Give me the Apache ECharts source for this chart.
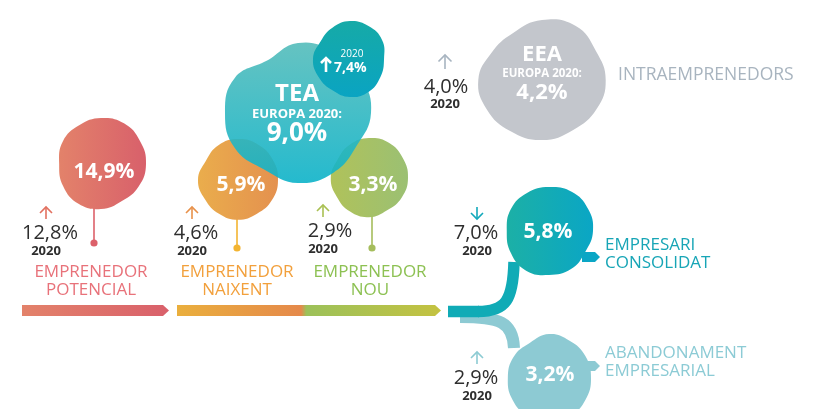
<!DOCTYPE html>
<html>
<head>
<meta charset="utf-8">
<script src="https://cdn.jsdelivr.net/npm/echarts@6/dist/echarts.min.js"></script>
<style>
  html, body { margin: 0; padding: 0; background: #fff; }
  #chart { width: 817px; height: 409px; }
</style>
</head>
<body>
<div id="chart"></div>
<script>
const stageNames = ['EMPRENEDOR\nPOTENCIAL', 'EMPRENEDOR\nNAIXENT', 'EMPRENEDOR\nNOU',
                    'EMPRESARI\nCONSOLIDAT', 'ABANDONAMENT\nEMPRESARIAL'];
const rateNow = [14.9, 5.9, 3.3, 5.8, 3.2];
const rate2020 = [12.8, 4.6, 2.9, 7.0, 2.9];
const prevYear = '2020';
const teaName = 'TEA';
const teaEurope = 9.0;
const tea2020 = 7.4;
const eeaName = 'EEA';
const eeaEurope = 4.2;
const eea2020 = 4.0;
const eeaLabel = 'INTRAEMPRENEDORS';
const europeLabel = 'EUROPA 2020:';

// ---- layout (pixels on a hidden 817x409 grid) ----
const FONT = '"Open Sans", sans-serif';
const DARK = '#2e2e2e';

const stageLayout = [
  { cx: 101, cy: 164, rx: 45, ry: 46, r: [1, 1.02, 1.0, 1.0, 0.97, 0.93, 0.98, 1.0, 0.97, 0.93, 0.98, 0.97],
    fill: ['#e3826a', '#d8606b'], pin: '#dc616a', pinX: 94, pinTop: 205, pinBot: 243,
    vx: 104, vy: 172, ax: 46, ay: 207, px: 50, lx: 91, ly: 272, align: 'center',
    labelColor: '#e8727a', arrowColor: '#e2705f' },
  { cx: 238, cy: 180, rx: 40, ry: 41, r: [1, 1.0, 1.0, 1.0, 0.98, 0.95, 0.97, 0.95, 0.95, 1.0, 0.93, 0.98],
    fill: ['#eaad4c', '#e4914f'], pin: '#f3b431', pinX: 237, pinTop: 215, pinBot: 248,
    vx: 241, vy: 185, ax: 192, ay: 207, px: 196, lx: 237, ly: 272, align: 'center',
    labelColor: '#f2a03c', arrowColor: '#e8914a' },
  { cx: 369, cy: 178, rx: 39, ry: 40, r: [1, 1.02, 1.0, 1.0, 0.97, 0.93, 0.98, 0.97, 0.95, 0.98, 0.93, 0.97],
    fill: ['#b0c25a', '#9bc073'], pin: '#a5bd5c', pinX: 372, pinTop: 214, pinBot: 248,
    vx: 373, vy: 185, ax: 323, ay: 205, px: 330, lx: 370, ly: 272, align: 'center',
    labelColor: '#8dc153', arrowColor: '#a9c052' },
  { cx: 549, cy: 231, rx: 44, ry: 44, r: [1, 1.03, 1.02, 1.0, 0.95, 1.0, 1.0, 1.04, 1.0, 0.96, 1.0, 1.0],
    fill: ['#1cb0a6', '#0aa6c5'], tipY: 257,
    vx: 548, vy: 232, ax: 477, ay: 207, px: 476, lx: 605, ly: 245, align: 'left',
    labelColor: '#17a5b6', arrowColor: '#12a9bb' },
  { cx: 549, cy: 378, rx: 42, ry: 44, r: [1, 0.98, 1.0, 1.0, 1.0, 1.0, 1.0, 1.0, 1.0, 0.98, 0.97, 0.92],
    fill: ['#8dcad3', '#8dcad3'], tipY: 366,
    vx: 550, vy: 375, ax: 477, ay: 352, px: 476, lx: 605, ly: 353, align: 'left',
    labelColor: '#8ccbd5', arrowColor: '#8ccbd3' }
];

const barLayout = [
  { x0: 22, x1: 169, y: 305, h: 11, stops: [[0, '#e3826a'], [1, '#d9606b']] },
  { x0: 177, x1: 441, y: 305, h: 11,
    stops: [[0, '#eaaf3d'], [0.47, '#e5894b'], [0.49, '#9cc15a'], [1, '#c4c241']] }
];

function pct(v) { return v.toFixed(1).replace('.', ',') + '%'; }

function blob(api, L, fill, opacity) {
  const n = L.r.length;
  const points = L.r.map(function (r, k) {
    const a = k * 2 * Math.PI / n;
    return api.coord([L.cx + L.rx * r * Math.sin(a), L.cy - L.ry * r * Math.cos(a)]);
  });
  return { type: 'polygon', shape: { points: points, smooth: 0.45 }, style: { fill: fill, opacity: opacity == null ? 1 : opacity } };
}

function grad(stops, vertical) {
  return new echarts.graphic.LinearGradient(0, 0, vertical ? 0 : 1, vertical ? 1 : 0,
    stops.map(function (s) { return { offset: s[0], color: s[1] }; }));
}

function txt(api, x, y, text, font, fill, align) {
  const p = api.coord([x, y]);
  return { type: 'text', style: { x: p[0], y: p[1], text: text, font: font, fill: fill,
    align: align || 'center', verticalAlign: 'middle' } };
}

function arrow(api, x, yTop, len, up, color, w, half) {
  const a = api.coord([x, yTop]), b = api.coord([x, yTop + len]);
  const tip = up ? a : b, d = up ? half : -half;
  return [
    { type: 'line', shape: { x1: a[0], y1: a[1], x2: b[0], y2: b[1] }, style: { stroke: color, lineWidth: w } },
    { type: 'polyline', shape: { points: [[tip[0] - half, tip[1] + d], [tip[0], tip[1]], [tip[0] + half, tip[1] + d]] },
      style: { stroke: color, lineWidth: w, fill: null } }
  ];
}

function renderBars(params, api) {
  const B = barLayout[params.dataIndex];
  const pts = [[B.x0, B.y], [B.x1 - 6, B.y], [B.x1, B.y + B.h / 2], [B.x1 - 6, B.y + B.h], [B.x0, B.y + B.h]]
    .map(function (p) { return api.coord(p); });
  return { type: 'polygon', shape: { points: pts }, style: { fill: grad(B.stops) } };
}

function renderFlows(params, api) {
  const c = function (x, y) { return api.coord([x, y]); };
  const lower = [c(460, 317), c(500, 317), c(513, 322), c(514, 348)];
  const upper = [c(478, 311.5), c(506, 311.5), c(513, 300), c(514, 262)];
  const s = c(448, 311.5);
  return { type: 'group', children: [
    { type: 'bezierCurve', shape: { x1: lower[0][0], y1: lower[0][1], cpx1: lower[1][0], cpy1: lower[1][1],
      cpx2: lower[2][0], cpy2: lower[2][1], x2: lower[3][0], y2: lower[3][1] },
      style: { stroke: '#8dcad3', lineWidth: 12, fill: null } },
    { type: 'line', shape: { x1: s[0], y1: s[1], x2: upper[0][0] + 1, y2: upper[0][1] },
      style: { stroke: '#10abb6', lineWidth: 11.5 } },
    { type: 'bezierCurve', shape: { x1: upper[0][0], y1: upper[0][1], cpx1: upper[1][0], cpy1: upper[1][1],
      cpx2: upper[2][0], cpy2: upper[2][1], x2: upper[3][0], y2: upper[3][1] },
      style: { stroke: '#10abb6', lineWidth: 11.5, fill: null } }
  ] };
}

function renderStage(params, api) {
  const i = params.dataIndex;
  const L = stageLayout[i];
  const kids = [];
  if (L.pinX) {
    const a = api.coord([L.pinX, L.pinTop]), b = api.coord([L.pinX, L.pinBot]);
    kids.push({ type: 'line', shape: { x1: a[0], y1: a[1], x2: b[0], y2: b[1] }, style: { stroke: L.pin, lineWidth: 1.6 } });
    kids.push({ type: 'circle', shape: { cx: b[0], cy: b[1], r: 3.6 }, style: { fill: L.pin } });
  }
  if (L.tipY) {
    const pts = [[582, L.tipY - 5], [595, L.tipY - 5], [600, L.tipY], [595, L.tipY + 5], [582, L.tipY + 5]]
      .map(function (p) { return api.coord(p); });
    kids.push({ type: 'polygon', shape: { points: pts }, style: { fill: L.fill[1] } });
  }
  kids.push(blob(api, L, grad([[0, L.fill[0]], [1, L.fill[1]]])));
  kids.push(txt(api, L.vx, L.vy, pct(rateNow[i]), 'bold 21px ' + FONT, '#fff'));
  const up = rateNow[i] >= rate2020[i];
  arrow(api, L.ax, L.ay, 12, up, L.arrowColor, 1.6, 6).forEach(function (e) { kids.push(e); });
  kids.push(txt(api, L.px, L.ay + 26, pct(rate2020[i]), '20px ' + FONT, DARK));
  kids.push(txt(api, L.ax, L.ay + 44, prevYear, 'bold 13px ' + FONT, DARK));
  stageNames[i].split('\n').forEach(function (line, k) {
    kids.push(txt(api, L.lx, L.ly + k * 18.5, line, '17px ' + FONT, L.labelColor, L.align));
  });
  return { type: 'group', children: kids };
}

function renderTea(params, api) {
  const big = { cx: 298, cy: 113, rx: 73, ry: 70, r: [1, 1.0, 1.0, 1.0, 0.93, 0.98, 1.0, 0.93, 1.0, 1.0, 1.0, 0.86] };
  const small = { cx: 350, cy: 59, rx: 37, ry: 38, r: [1, 1.0, 1.0, 0.92, 0.95, 1.0, 1.0, 0.95, 0.97, 1.0, 0.92, 0.95] };
  const kids = [
    blob(api, big, grad([[0, '#55bdbb'], [1, '#0db3c9']], true), 0.9),
    txt(api, 297, 94, teaName, 'bold 24px ' + FONT, '#fff'),
    txt(api, 297, 114, europeLabel, 'bold 13px ' + FONT, '#fff'),
    txt(api, 297, 134, pct(teaEurope), 'bold 26px ' + FONT, '#fff'),
    blob(api, small, grad([[0, '#16aaa7'], [1, '#0aa4c2']], true)),
    txt(api, 352, 54, prevYear, '10px ' + FONT, '#fff'),
    txt(api, 334, 68, pct(tea2020), 'bold 14px ' + FONT, '#fff', 'left')
  ];
  arrow(api, 326, 58, 14, teaEurope >= tea2020, '#fff', 2.6, 5).forEach(function (e) { kids.push(e); });
  return { type: 'group', children: kids };
}

function renderEea(params, api) {
  const shape = { cx: 542, cy: 80, rx: 65, ry: 60, r: [1.0, 1.04, 0.96, 0.98, 0.97, 0.96, 1.0, 0.98, 0.98, 0.98, 0.9, 0.9] };
  const kids = [
    blob(api, shape, '#c3c6cc'),
    txt(api, 542, 55, eeaName, 'bold 22px ' + FONT, '#fff'),
    txt(api, 542, 74, europeLabel, 'bold 11.5px ' + FONT, '#fff'),
    txt(api, 542, 93, pct(eeaEurope), 'bold 22px ' + FONT, '#fff'),
    txt(api, 446, 87, pct(eea2020), '20px ' + FONT, DARK),
    txt(api, 445, 104, prevYear, 'bold 13px ' + FONT, DARK),
    txt(api, 618, 75, eeaLabel, '17.5px ' + FONT, '#a8b4bf', 'left')
  ];
  arrow(api, 445, 55, 14, eeaEurope >= eea2020, '#a7b4c0', 1.6, 6.5).forEach(function (e) { kids.push(e); });
  return { type: 'group', children: kids };
}

const chart = echarts.init(document.getElementById('chart'));
chart.setOption({
  animation: false,
  grid: { left: 0, right: 0, top: 0, bottom: 0 },
  xAxis: { type: 'value', min: 0, max: 817, show: false },
  yAxis: { type: 'value', min: 0, max: 409, inverse: true, show: false },
  series: [
    { type: 'custom', name: 'barres', renderItem: renderBars, data: barLayout.map(function (b, i) { return [i, 0]; }) },
    { type: 'custom', name: 'fluxos', renderItem: renderFlows, data: [[0, 0]] },
    { type: 'custom', name: 'etapes', renderItem: renderStage, data: rateNow.map(function (v, i) { return [i, v]; }) },
    { type: 'custom', name: 'TEA', renderItem: renderTea, data: [[teaEurope, tea2020]] },
    { type: 'custom', name: 'EEA', renderItem: renderEea, data: [[eeaEurope, eea2020]] }
  ]
});
</script>
</body>
</html>
